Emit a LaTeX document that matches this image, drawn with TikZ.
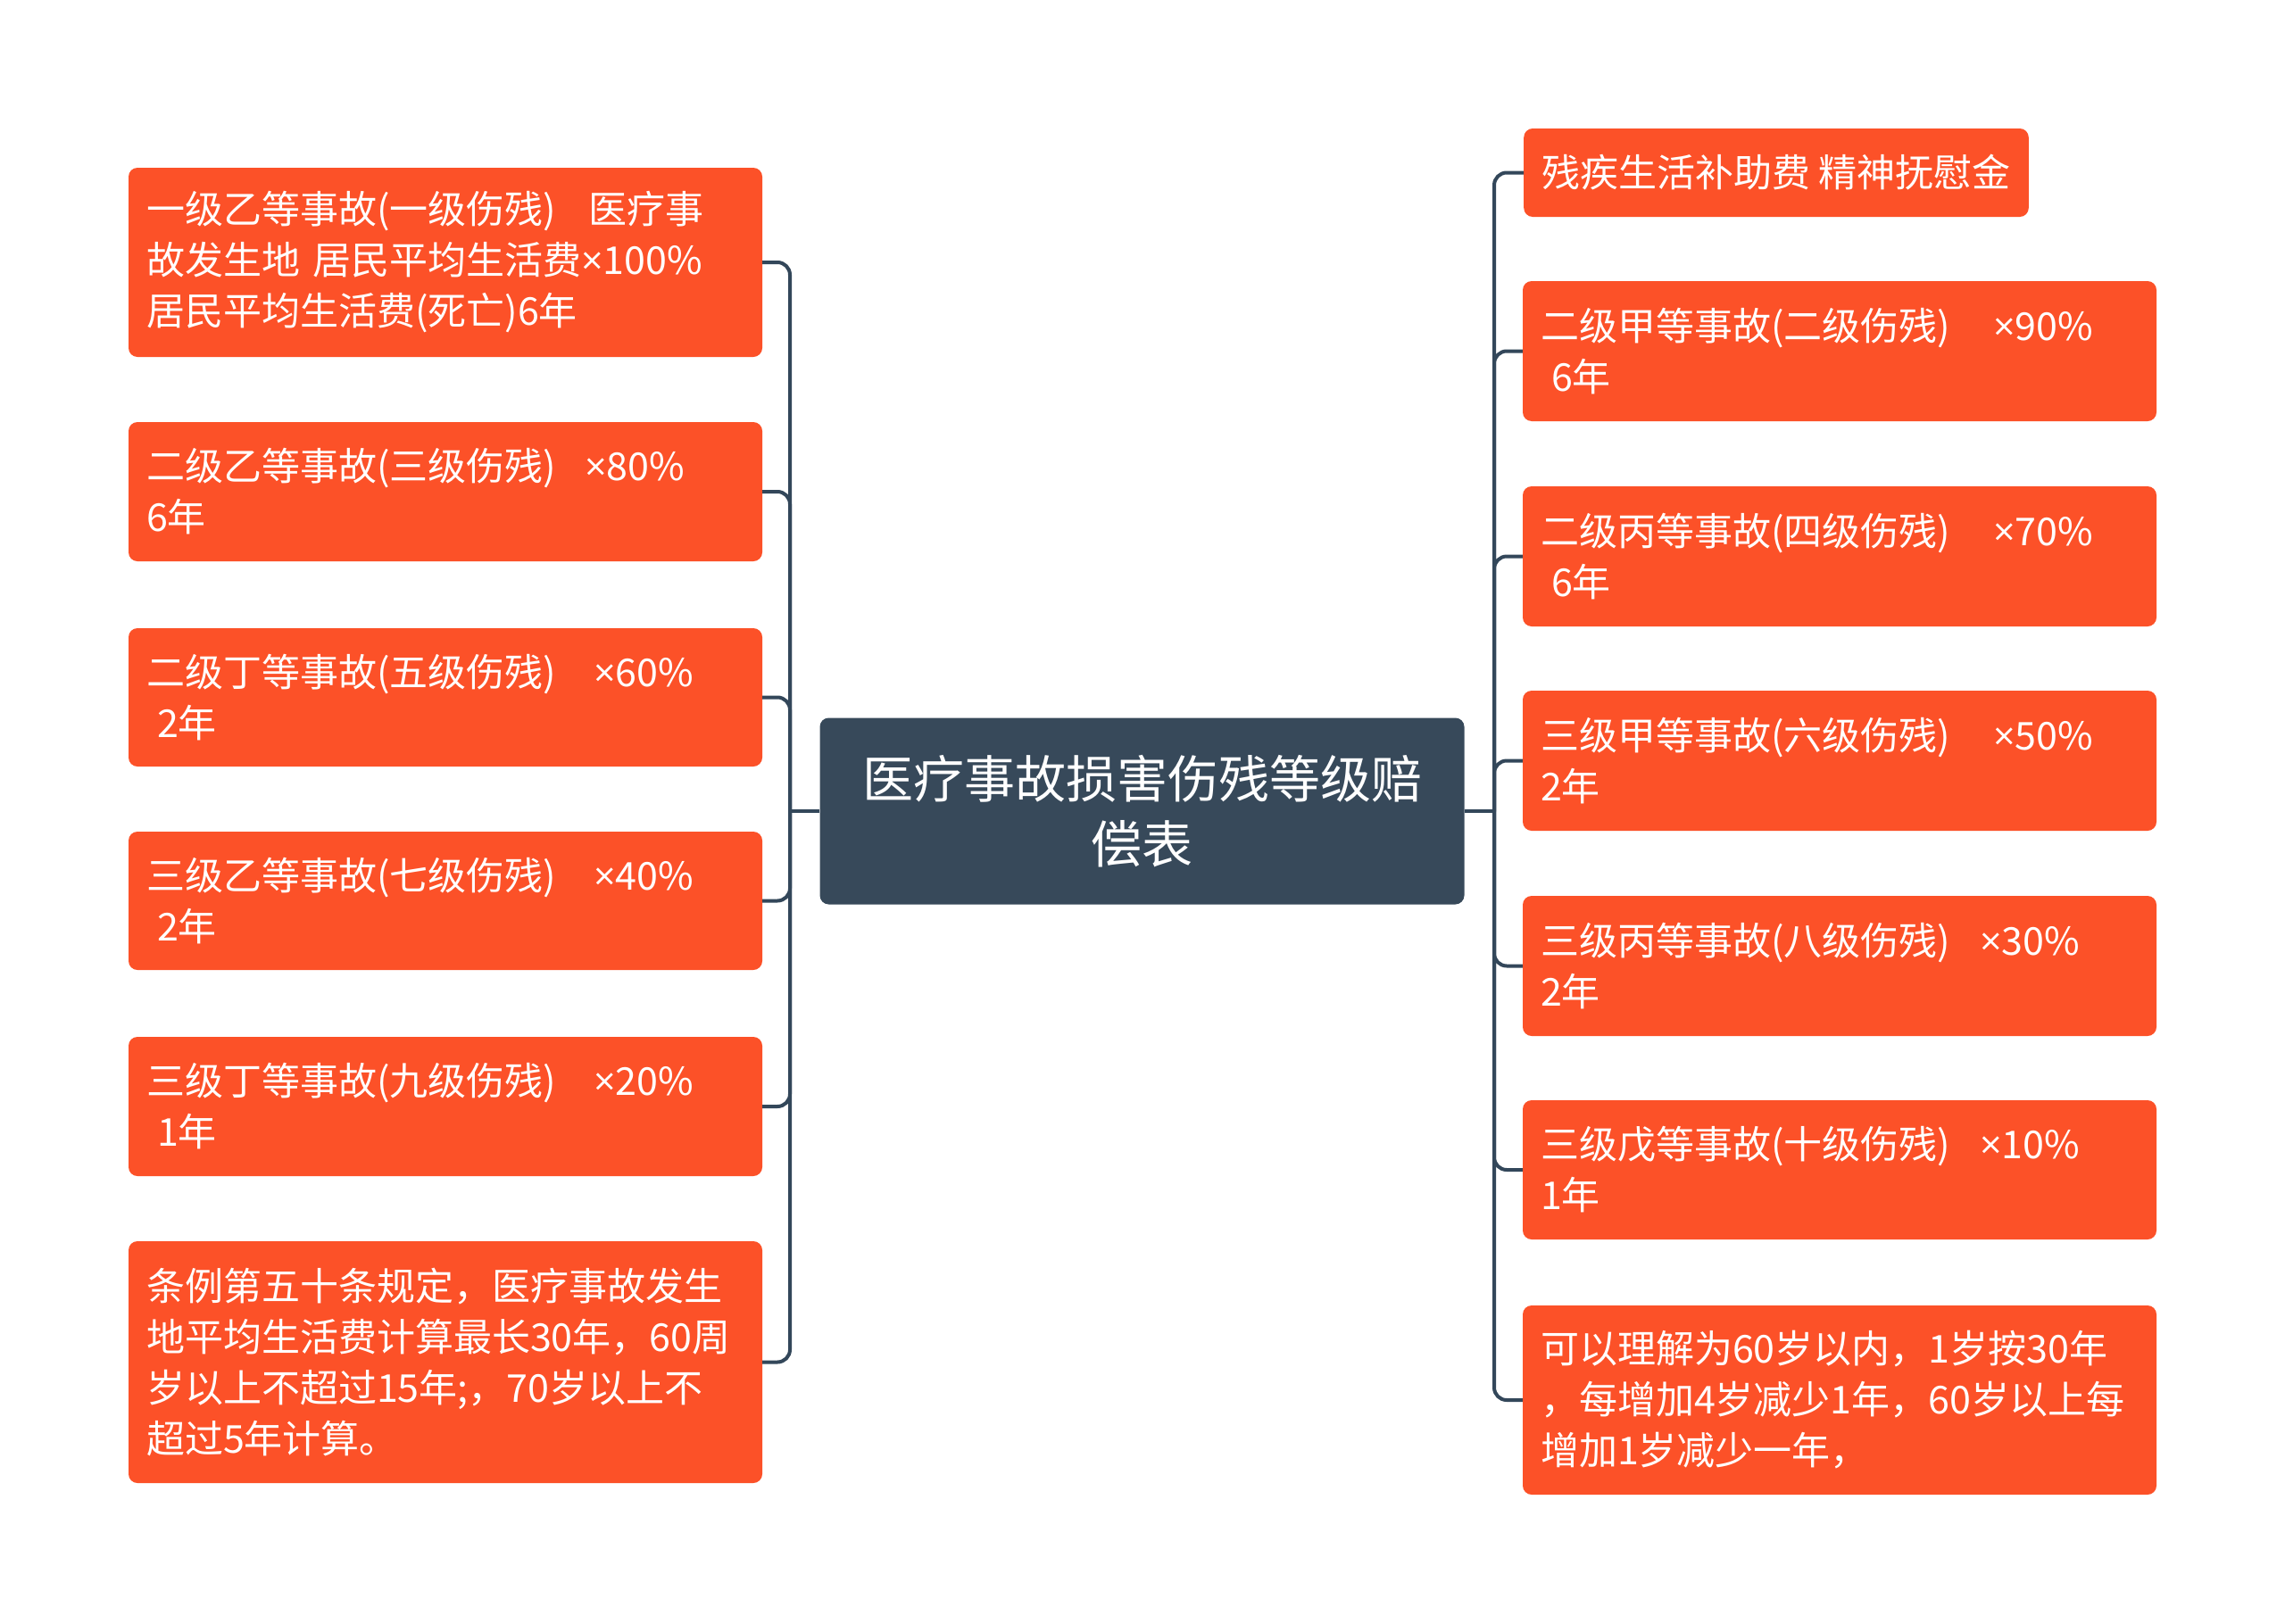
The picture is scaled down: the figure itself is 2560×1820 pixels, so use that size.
\documentclass[tikz,border=0pt]{standalone}
\usepackage{fontspec}
\setmainfont{Noto Sans CJK SC}
\newfontfamily\latf{Open Sans}
\newcommand{\tms}{{\latf ×}}
\definecolor{leafor}{HTML}{FC5128}
\definecolor{rootdk}{HTML}{37495A}
\definecolor{conndk}{HTML}{33475A}
\tikzset{
  leaf/.style={fill=leafor, rounded corners=10pt, text=white,
    font=\fontsize{43}{57}\selectfont, align=left, text width=670pt,
    inner xsep=20pt, inner ysep=0pt, anchor=center},
  leafnat/.style={fill=leafor, rounded corners=10pt, text=white,
    font=\fontsize{43}{57}\selectfont, align=left,
    inner xsep=20pt, inner ysep=0pt, anchor=center},
  rootbox/.style={fill=rootdk, rounded corners=10pt, text=white,
    font=\fontsize{57}{73.5}\selectfont, align=center, text width=680pt,
    inner xsep=21pt, inner ysep=0pt, minimum height=209pt, anchor=center},
  conn/.style={draw=conndk, line width=4pt, rounded corners=14pt}
}
\begin{document}
\begin{tikzpicture}[x=1pt,y=-1pt]
\useasboundingbox (0,0) rectangle (2560,1820);
\fill[white] (0,0) rectangle (2560,1820);

% root
\node[rootbox] (root) at (1279.5,909) {医疗事故损害伤残等级赔\\偿表};

% left leaves
\node[leaf, minimum height=212pt] (l1) at (499,294)
  {一级乙等事故(一级伤残)\hspace{36pt}医疗事\\故发生地 居民平均生活费\tms100\%\\居民平均生活费(死亡)6年};
\node[leaf, minimum height=156pt] (l2) at (499,551)
  {二级乙等事故(三级伤残)\hspace{32pt}\tms80\%\\6年};
\node[leaf, minimum height=155pt] (l3) at (499,781.5)
  {二级丁等事故(五级伤残)\hspace{42pt}\tms60\%\\\hspace*{12pt}2年};
\node[leaf, minimum height=155pt] (l4) at (499,1009.5)
  {三级乙等事故(七级伤残)\hspace{42pt}\tms40\%\\\hspace*{12pt}2年};
\node[leaf, minimum height=156pt] (l5) at (499,1240)
  {三级丁等事故(九级伤残)\hspace{42pt}\tms20\%\\\hspace*{12pt}1年};
\node[leaf, minimum height=271pt] (l6) at (499,1526.5)
  {条例第五十条规定，医疗事故发生\\地平均生活费计算最长30年，60周\\岁以上不超过15年;，70岁以上不\\超过5年计算。};

% right leaves
\node[leafnat, minimum height=99pt] (r1) at (1990,193.5)
  {残疾生活补助费 精神抚慰金};
\node[leaf, minimum height=157pt] (r2) at (2061,393.5)
  {二级甲等事故(二级伤残)\hspace{48pt}\tms90\%\\\hspace*{12pt}6年};
\node[leaf, minimum height=157pt] (r3) at (2061,623.5)
  {二级丙等事故(四级伤残)\hspace{48pt}\tms70\%\\\hspace*{12pt}6年};
\node[leaf, minimum height=157pt] (r4) at (2061,852.5)
  {三级甲等事故(六级伤残)\hspace{48pt}\tms50\%\\2年};
\node[leaf, minimum height=157pt] (r5) at (2061,1082.5)
  {三级丙等事故(八级伤残)\hspace{33pt}\tms30\%\\2年};
\node[leaf, minimum height=156pt] (r6) at (2061,1311)
  {三级戊等事故(十级伤残)\hspace{33pt}\tms10\%\\1年};
\node[leaf, minimum height=212pt] (r7) at (2061,1569)
  {可以理解为60岁以内，1岁按30年\\，每增加4岁减少1年，60岁以上每\\增加1岁减少一年，};

% connectors
\coordinate (jl) at (885,909);
\coordinate (jr) at (1674,909);
\draw[conn] (root.west) -- (jl);
\draw[conn] (root.east) -- (jr);
\foreach \n in {l1,l2,l3,l4,l5,l6} {\draw[conn] (jl) |- (\n.east);}
\foreach \n in {r1,r2,r3,r4,r5,r6,r7} {\draw[conn] (jr) |- (\n.west);}
\end{tikzpicture}
\end{document}
